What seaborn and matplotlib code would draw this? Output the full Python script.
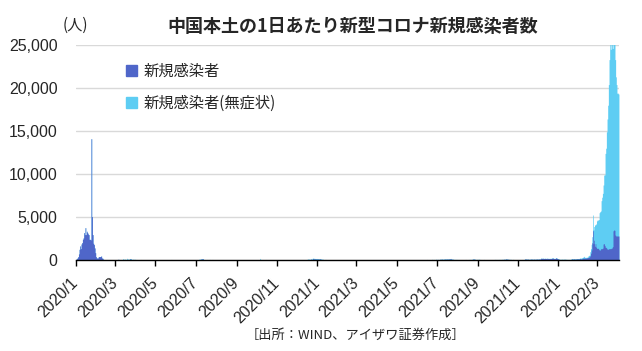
import pandas as pd
import seaborn as sns
import matplotlib.pyplot as plt
import matplotlib.dates as mdates
import matplotlib.patches as mpatches

# daily new confirmed cases (from 2020-01-20)
sym_2020 = [
    30, 80, 150, 250, 390, 700, 1240, 1630, 1320, 1860, 2020, 2400,
    2560, 3180, 2950, 3760, 2950, 3340, 3180, 3030, 2950, 2400, 2400, 2330, 14100, 5050, 2950, 1940, 1790, 1400, 850, 390,
    230, 230, 230, 390, 390, 390, 390, 470, 230,
    200, 80, 60, 50, 45, 40, 30, 25, 20, 19, 24, 15, 8, 11, 20, 16, 21, 13, 34, 39, 41, 46, 39, 78, 47, 67, 55, 54, 45, 31, 48,
    35, 31, 19, 30, 39, 32, 62, 63, 42, 46, 99, 108, 89, 46, 26, 27, 27, 16, 12, 11, 30, 10, 6, 11, 12, 3, 6, 22, 4, 12,
    1, 2, 2, 3, 1, 2, 4, 1, 14, 17, 1, 7, 3, 4, 8, 5, 7, 6, 2, 5, 4, 0, 3, 3, 7, 1, 2, 4, 1, 2, 5,
    5, 1, 4, 5, 5, 3, 6, 4, 3, 2, 2, 11, 57, 49, 40, 44, 28, 25, 32, 26, 26, 18, 13, 18, 13, 19, 17, 12, 19, 3,
    3, 5, 3, 8, 8, 5, 7, 4, 2, 7, 8, 8, 8, 8, 6, 11, 22, 16, 22, 11, 14, 14, 22, 34, 46, 61, 68, 101, 105, 123, 127,
    45, 49, 43, 36, 27, 37, 32, 23, 23, 49, 22, 15, 19, 33, 22, 22, 23, 22, 22, 22, 24, 20, 15, 20, 11, 14, 9, 9, 9, 9, 8,
    10, 7, 11, 10, 10, 11, 9, 9, 10, 12, 7, 14, 8, 6, 8, 7, 6, 16, 14, 13, 16, 7, 9, 10, 12, 14, 10, 21, 14, 10,
    19, 14, 12, 14, 14, 10, 12, 21, 19, 12, 21, 13, 13, 14, 13, 19, 13, 16, 13, 24, 11, 28, 21, 19, 20, 19, 42, 17, 25, 22, 21,
    35, 24, 26, 24, 33, 30, 16, 26, 17, 18, 17, 16, 9, 13, 16, 15, 14, 12, 11, 16, 16, 24, 12, 12, 17, 11, 19, 12, 20, 11,
    8, 22, 13, 15, 15, 8, 15, 8, 10, 13, 13, 23, 17, 13, 15, 17, 12, 23, 16, 24, 12, 12, 16, 13, 22, 26, 20, 25, 24, 11, 19,
]
sym_2021 = [
    13, 19, 33, 17, 32, 63, 53, 37, 33, 97, 40, 55, 138, 144, 115, 109, 118, 93, 103, 88, 103, 107, 80, 124, 82, 75, 55, 54, 53, 30, 33,
    42, 42, 28, 30, 25, 11, 20, 14, 14, 12, 14, 14, 11, 7, 10, 9, 11, 7, 10, 8, 9, 8, 10, 6, 11, 7, 9, 7,
    10, 6, 12, 11, 11, 8, 11, 16, 14, 9, 6, 5, 5, 7, 8, 7, 8, 3, 10, 6, 5, 7, 9, 14, 16, 9, 5, 12, 5, 9, 10,
    14, 15, 32, 14, 22, 26, 28, 12, 17, 24, 11, 13, 12, 13, 16, 11, 9, 7, 12, 5, 16, 16, 8, 13, 18, 17, 12, 16, 13, 11,
    10, 12, 9, 13, 9, 10, 7, 14, 8, 8, 11, 14, 13, 11, 11, 15, 14, 19, 7, 12, 13, 22, 23, 12, 19, 11, 17, 28, 17, 17, 26,
    23, 24, 28, 16, 31, 20, 23, 21, 38, 27, 26, 31, 26, 24, 27, 25, 33, 29, 31, 31, 32, 23, 26, 16, 19, 24, 18, 12, 21, 19,
    18, 24, 22, 20, 39, 27, 23, 20, 21, 34, 28, 17, 57, 41, 38, 47, 24, 29, 65, 33, 70, 45, 26, 73, 76, 75, 76, 86, 68, 64, 85,
    98, 75, 90, 85, 124, 80, 96, 125, 108, 143, 71, 81, 76, 57, 44, 41, 52, 42, 28, 53, 28, 34, 22, 24, 21, 25, 23, 23, 22, 37, 20,
    33, 34, 25, 26, 23, 24, 28, 38, 28, 30, 46, 75, 101, 90, 90, 52, 42, 56, 49, 44, 61, 50, 44, 40, 36, 32, 32, 28, 39, 26,
    16, 21, 17, 16, 19, 21, 25, 17, 22, 21, 30, 30, 25, 20, 36, 40, 46, 28, 43, 50, 40, 57, 57, 39, 43, 61, 59, 51, 91, 64, 70,
    93, 109, 93, 78, 78, 63, 72, 50, 62, 47, 36, 59, 54, 31, 35, 22, 23, 24, 22, 26, 26, 27, 28, 26, 24, 30, 37, 39, 41, 91,
    113, 91, 79, 95, 84, 74, 62, 80, 81, 101, 81, 76, 79, 94, 83, 74, 86, 101, 92, 85, 87, 105, 88, 140, 206, 162, 209, 151, 165, 191, 175,
]
sym_2022 = [
    175, 131, 191, 157, 165, 153, 159, 165, 159, 192, 221, 201, 165, 165, 163, 223, 223, 163, 143, 99, 73, 56, 52, 51, 63, 57, 57, 48, 77, 64, 57,
    53, 42, 48, 36, 46, 45, 45, 64, 101, 105, 86, 113, 99, 87, 106, 103, 126, 112, 127, 113, 128, 178, 114, 107, 189, 200, 230, 202,
    220, 200, 230, 250, 260, 300, 330, 380, 500, 800, 1160, 2000, 3400, 1900, 2300, 1600, 1900, 1500, 1360, 1360,
    1360, 1250, 1160, 1160, 1300, 1320, 1320, 1380, 1860, 1900, 1700,
    1500, 1450, 1360, 1250, 1250, 1300, 1320, 1320, 1320, 1360, 1400, 1550, 3400, 3500, 3450, 2900, 2800, 2790, 2800, 2790, 2790,
]

# daily new asymptomatic cases (reported from 2020-04-01)
asym_2020 = [
    130, 60, 64, 78, 47, 30, 137, 61, 47, 34, 63, 61, 64, 40, 44, 66, 64, 51, 78, 37, 38, 45, 26, 40, 30, 25, 20, 40, 26, 25,
    19, 14, 13, 13, 16, 18, 16, 20, 15, 20, 12, 15, 21, 26, 16, 19, 12, 12, 18, 31, 28, 36, 40, 25, 16, 40, 23, 13, 13, 9, 2,
    6, 7, 4, 3, 3, 6, 4, 3, 2, 3, 4, 3, 7, 7, 9, 7, 4, 3, 10, 7, 6, 5, 4, 6, 5, 4, 7, 5, 6, 3,
    4, 4, 6, 3, 3, 4, 4, 3, 4, 4, 3, 5, 3, 4, 4, 5, 12, 13, 14, 30, 23, 32, 34, 21, 47, 28, 39, 34, 42, 31, 23,
    23, 17, 14, 18, 21, 24, 14, 22, 15, 20, 25, 33, 27, 30, 35, 27, 29, 33, 27, 29, 27, 26, 20, 28, 20, 18, 14, 24, 22, 21, 28,
    25, 28, 15, 24, 24, 25, 20, 21, 17, 20, 14, 21, 17, 14, 18, 19, 26, 15, 20, 22, 25, 36, 27, 20, 25, 29, 26, 28, 28, 20,
    17, 20, 14, 13, 12, 13, 15, 13, 15, 12, 23, 14, 10, 16, 16, 9, 13, 10, 11, 12, 18, 21, 16, 23, 161, 41, 27, 27, 14, 19, 24,
    21, 32, 35, 28, 15, 13, 20, 13, 14, 9, 16, 12, 12, 13, 17, 13, 8, 13, 14, 20, 15, 11, 16, 11, 8, 13, 9, 9, 9, 11,
    12, 16, 14, 12, 8, 16, 5, 18, 10, 7, 12, 17, 11, 15, 6, 14, 12, 10, 11, 10, 15, 9, 11, 17, 12, 16, 10, 12, 12, 16, 9,
]
asym_2021 = [
    14, 16, 14, 13, 58, 46, 75, 42, 36, 76, 41, 81, 78, 76, 75, 72, 66, 71, 77, 80, 45, 57, 47, 38, 58, 28, 46, 48, 26, 15, 14,
    26, 22, 20, 10, 13, 11, 12, 11, 14, 10, 9, 7, 14, 8, 12, 10, 9, 6, 5, 6, 7, 6, 7, 10, 9, 8, 15, 8,
    6, 7, 5, 9, 5, 10, 3, 11, 10, 8, 11, 7, 7, 5, 5, 11, 9, 7, 9, 5, 6, 8, 9, 8, 9, 8, 8, 9, 8, 12, 9,
    14, 26, 15, 12, 19, 15, 20, 25, 19, 18, 8, 10, 15, 20, 18, 15, 11, 16, 12, 13, 18, 14, 18, 15, 16, 19, 16, 11, 24, 10,
    10, 16, 12, 11, 15, 12, 12, 15, 6, 14, 8, 17, 25, 12, 14, 10, 20, 12, 7, 16, 12, 11, 9, 11, 22, 21, 25, 14, 13, 14, 12,
    22, 16, 20, 17, 21, 27, 16, 19, 12, 16, 10, 12, 12, 16, 12, 7, 9, 16, 15, 8, 11, 15, 12, 16, 21, 21, 16, 22, 24, 16,
    13, 12, 12, 20, 25, 20, 17, 18, 22, 24, 23, 20, 28, 20, 22, 25, 28, 42, 28, 27, 20, 20, 22, 24, 19, 31, 30, 33, 28, 44, 36,
    43, 36, 46, 23, 33, 29, 27, 21, 45, 38, 32, 31, 31, 31, 29, 23, 30, 27, 25, 29, 28, 32, 20, 26, 18, 30, 29, 24, 20, 21, 28,
    28, 30, 28, 24, 31, 37, 42, 29, 38, 37, 31, 31, 24, 25, 28, 24, 21, 29, 21, 24, 32, 31, 26, 21, 23, 23, 20, 21, 28, 21,
    21, 16, 20, 19, 18, 17, 22, 24, 20, 17, 21, 21, 22, 22, 25, 32, 25, 20, 21, 18, 15, 13, 19, 22, 21, 19, 21, 12, 14, 17, 18,
    28, 25, 22, 18, 23, 18, 17, 13, 15, 17, 13, 13, 11, 10, 13, 17, 12, 14, 8, 20, 21, 19, 24, 21, 19, 30, 20, 23, 26, 20,
    21, 17, 16, 21, 23, 20, 19, 17, 20, 29, 21, 20, 12, 15, 18, 17, 22, 19, 12, 21, 22, 24, 23, 27, 26, 22, 33, 28, 20, 20, 27,
]
asym_2022 = [
    27, 26, 40, 36, 28, 36, 37, 35, 40, 36, 33, 21, 28, 26, 38, 37, 33, 31, 27, 46, 33, 31, 35, 37, 37, 38, 34, 38, 28, 30, 37,
    30, 36, 28, 36, 28, 26, 30, 43, 72, 38, 45, 49, 50, 52, 37, 44, 43, 50, 46, 52, 75, 64, 104, 117, 96, 118, 127, 223,
    80, 110, 80, 70, 90, 170, 190, 200, 470, 520, 660, 710, 1830, 1600, 1600, 2470, 2200, 2700, 3190, 3290,
    3290, 3450, 4340, 4460, 4400, 5580, 5980, 6370, 6860, 7980, 8200,
    10900, 11550, 13540, 15150, 16750, 19100, 21980, 24180, 23180, 24440, 25100, 23050, 23400, 24000, 22550, 20400,
    18500, 17610, 16600, 16610, 16510,
]

# x tick labels (the axis runs from 2020-01-20, ticks every two months on the 20th)
tick_labels = ["2020/1", "2020/3", "2020/5", "2020/7", "2020/9", "2020/11",
               "2021/1", "2021/3", "2021/5", "2021/7", "2021/9", "2021/11",
               "2022/1", "2022/3"]
y_ticks = [0, 5000, 10000, 15000, 20000, 25000]

DARK = "#4F66C9"
LIGHT = "#5ECDF3"


def main():
    sns.set_style("white")
    plt.rcParams["font.family"] = ["Noto Sans CJK JP", "DejaVu Sans"]

    sym_vals = sym_2020 + sym_2021 + sym_2022
    asym_vals = asym_2020 + asym_2021 + asym_2022
    sym = pd.Series(sym_vals, index=pd.date_range("2020-01-20", periods=len(sym_vals)))
    asym = pd.Series(asym_vals, index=pd.date_range("2020-04-01", periods=len(asym_vals)))
    assert sym.index[-1] == pd.Timestamp("2022-04-21"), sym.index[-1]
    assert asym.index[-1] == pd.Timestamp("2022-04-21"), asym.index[-1]

    df = pd.DataFrame({"sym": sym, "asym": asym}).fillna(0)
    df["total"] = df["sym"] + df["asym"]
    df["day"] = mdates.date2num(df.index.to_pydatetime())

    fig = plt.figure(figsize=(6.42, 3.51), dpi=100)
    ax = fig.add_axes([75.5 / 642, 1 - 260 / 351, (619 - 75.5) / 642, 215 / 351])

    sns.histplot(data=df, x="day", weights="total", discrete=True, element="step",
                 fill=True, color=LIGHT, alpha=1, linewidth=0, ax=ax, zorder=2)
    sns.histplot(data=df, x="day", weights="sym", discrete=True, element="step",
                 fill=True, color=DARK, alpha=1, linewidth=0, ax=ax, zorder=3)

    start = mdates.date2num(pd.Timestamp("2020-01-20").to_pydatetime())
    end = mdates.date2num(pd.Timestamp("2022-04-21").to_pydatetime())
    ax.set_xlim(start, end + 0.6)
    ax.set_ylim(0, 25000)

    ax.set_yticks(y_ticks)
    ax.set_yticklabels([f"{v:,}" for v in y_ticks], family="Liberation Sans", fontsize=11.5)
    ax.tick_params(axis="y", length=0, pad=13)
    ax.yaxis.grid(True, color="#D9D9D9", linewidth=1)
    ax.set_axisbelow(True)

    tick_dates = [pd.Timestamp(f"{lab}/20") for lab in tick_labels]
    ax.set_xticks(mdates.date2num([d.to_pydatetime() for d in tick_dates]))
    ax.set_xticklabels(tick_labels, rotation=45, ha="right", va="center",
                       rotation_mode="anchor", family="Liberation Sans", fontsize=11.5)
    ax.tick_params(axis="x", length=4, width=1, color="black", pad=11, direction="out")
    ax.xaxis.set_ticks_position("bottom")

    for s in ["top", "right", "left"]:
        ax.spines[s].set_visible(False)
    ax.spines["bottom"].set_color("black")
    ax.spines["bottom"].set_linewidth(1)
    ax.spines["bottom"].set_zorder(5)
    ax.set_xlabel("")
    ax.set_ylabel("")

    handles = [mpatches.Patch(color=DARK, label="新規感染者"),
               mpatches.Patch(color=LIGHT, label="新規感染者(無症状)")]
    ax.legend(handles=handles, loc="upper left", bbox_to_anchor=(126 / 642, 1 - 63 / 351),
              bbox_transform=fig.transFigure, frameon=False, fontsize=11,
              handlelength=0.75, handleheight=0.75, handletextpad=0.4,
              labelspacing=0.95, borderpad=0, borderaxespad=0)

    fig.text(353 / 642, 1 - 27 / 351, "中国本土の1日あたり新型コロナ新規感染者数",
             ha="center", va="center", fontsize=13, fontweight="bold")
    fig.text(75 / 642, 1 - 25 / 351, "(人)", ha="center", va="center", fontsize=11)
    fig.text(356 / 642, 1 - 335 / 351, "［出所：WIND、アイザワ証券作成］",
             ha="center", va="center", fontsize=9.5)

    fig.savefig("out.png", dpi=100)
    plt.close(fig)


if __name__ == "__main__":
    main()
